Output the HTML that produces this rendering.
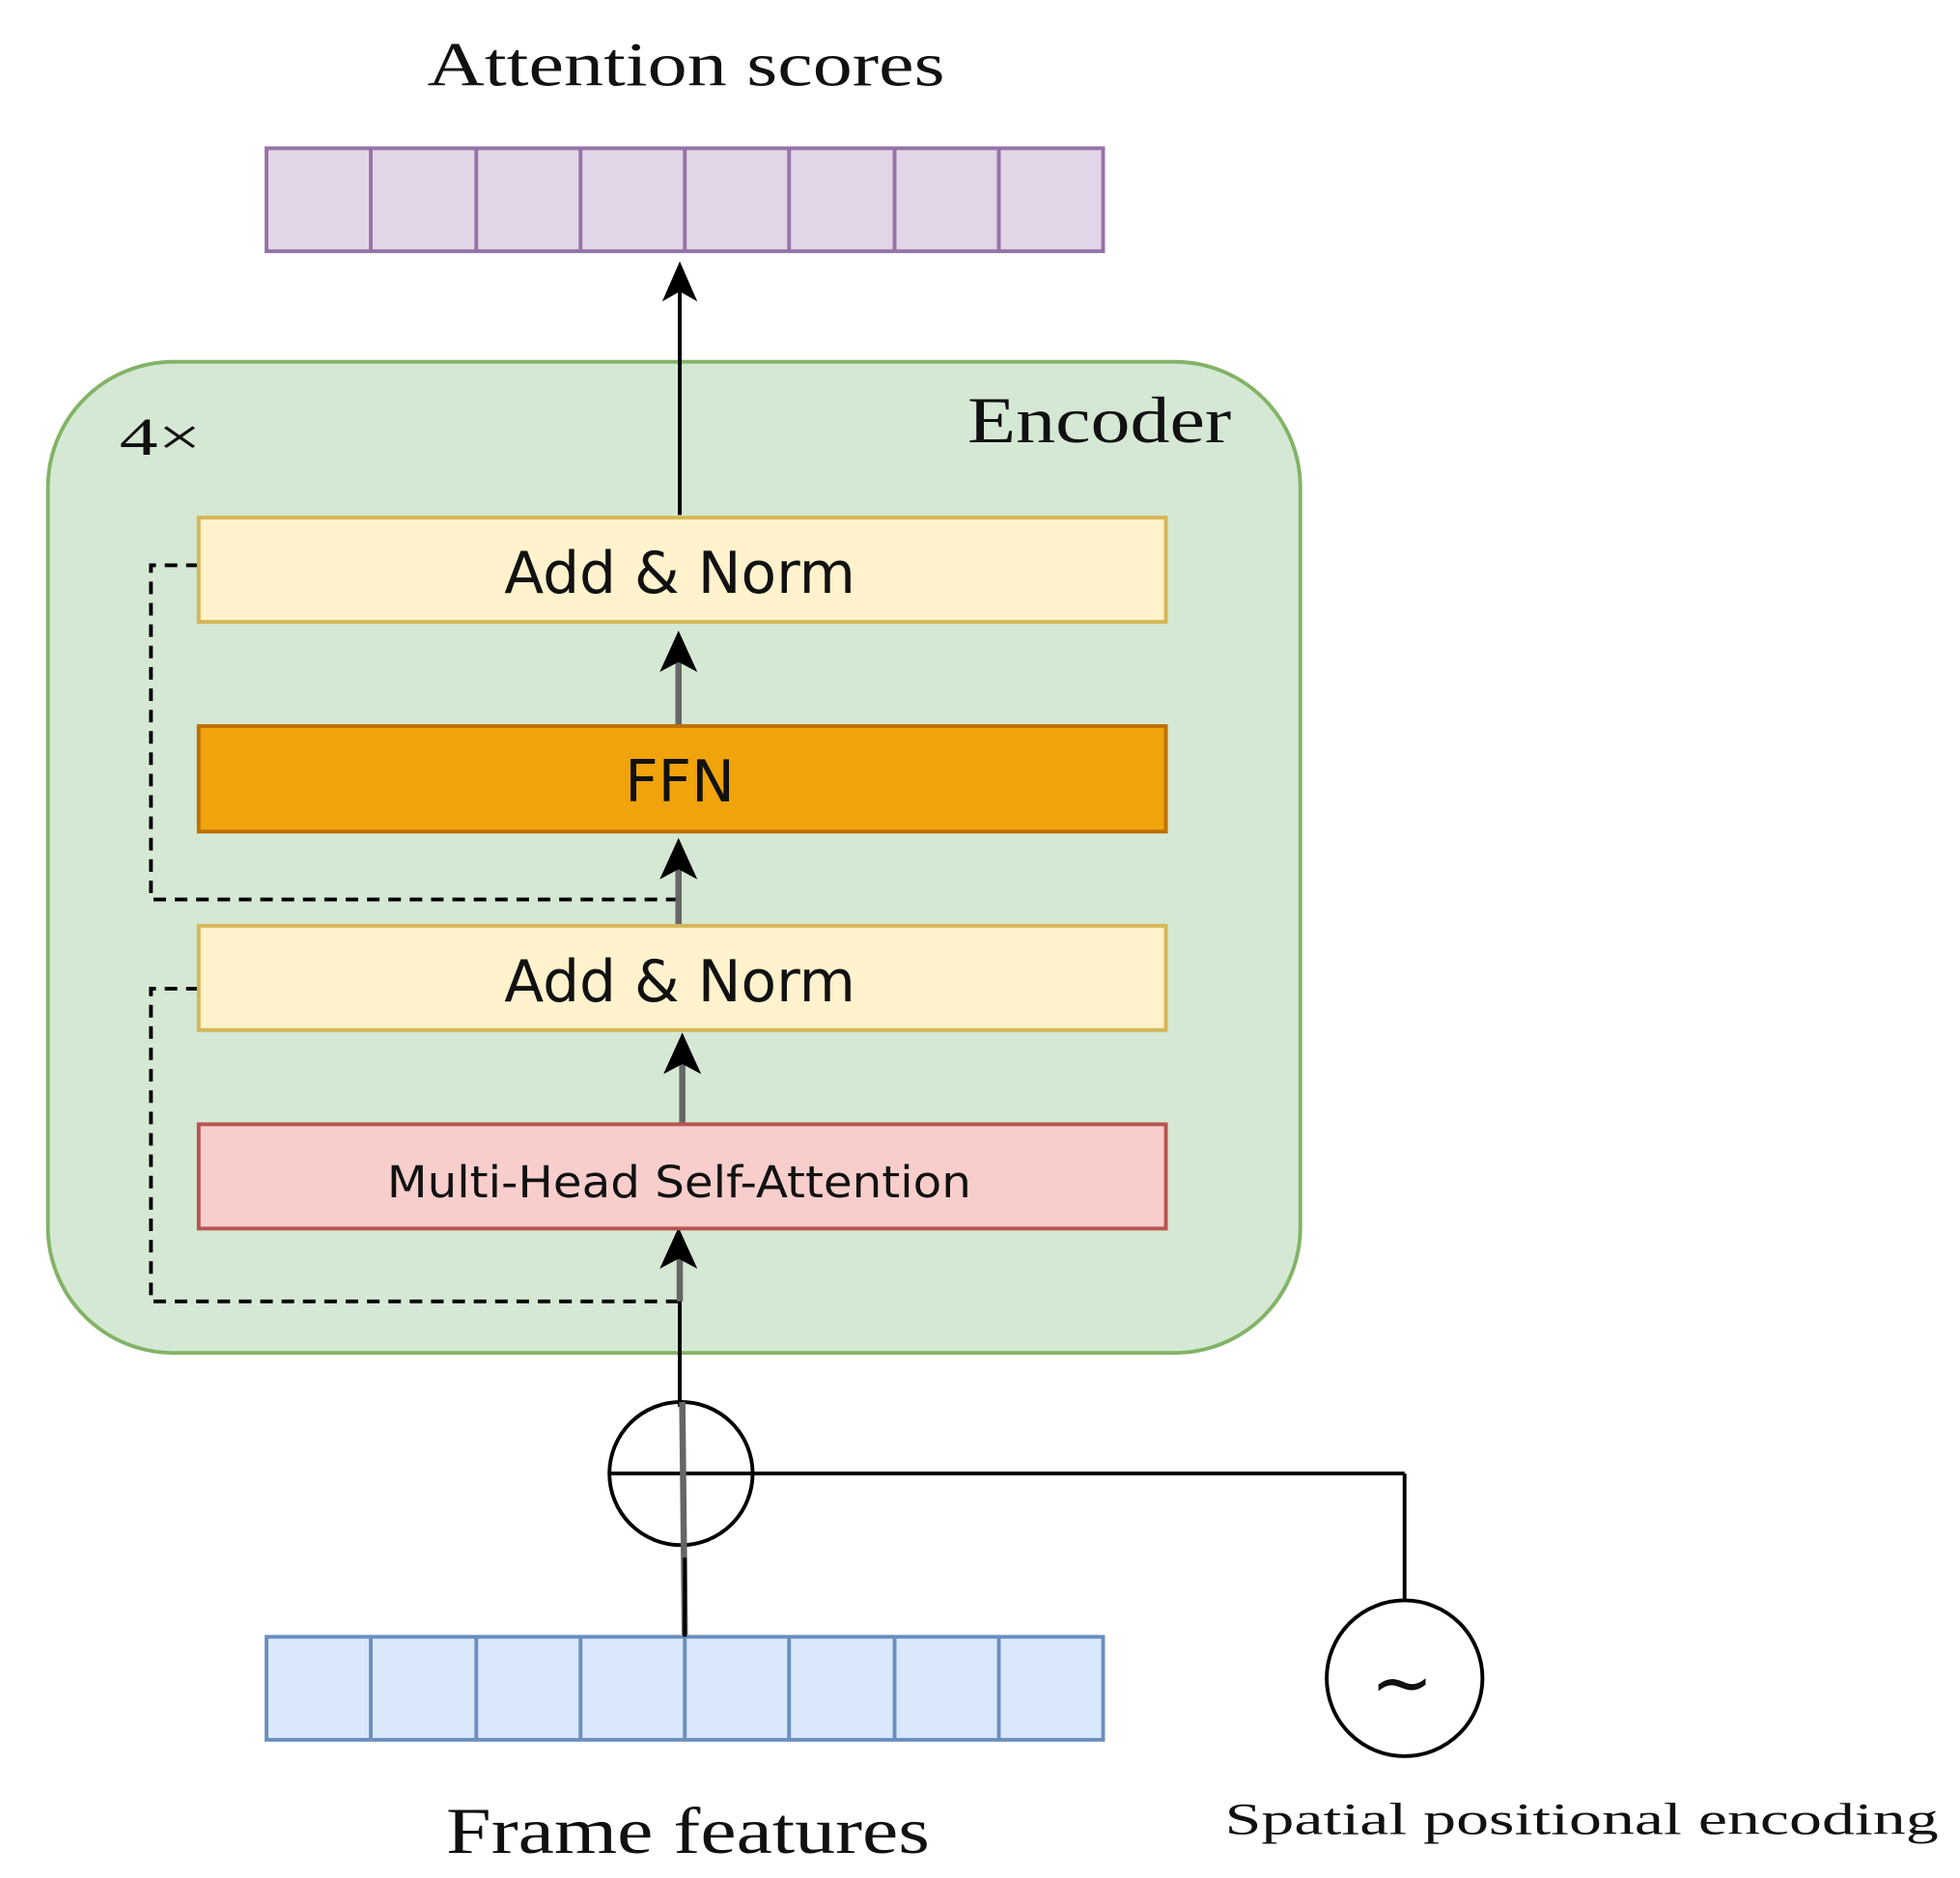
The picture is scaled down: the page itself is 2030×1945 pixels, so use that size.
<!DOCTYPE html>
<html><head><meta charset="utf-8"><style>
html,body{margin:0;padding:0;background:#fff;}
svg{display:block;}
</style></head><body>
<svg width="2030" height="1945" viewBox="0 0 1560 1495" xmlns="http://www.w3.org/2000/svg">
<text x="340" y="68" font-family="Liberation Serif, serif" font-size="50" textLength="412" lengthAdjust="spacingAndGlyphs" fill="#111">Attention scores</text>
<rect x="212" y="118" width="666" height="82" fill="#e1d5e7" stroke="#9673a6" stroke-width="3"/>
<g stroke="#9673a6" stroke-width="3">
<line x1="295" y1="118" x2="295" y2="200"/><line x1="379" y1="118" x2="379" y2="200"/><line x1="462" y1="118" x2="462" y2="200"/><line x1="545" y1="118" x2="545" y2="200"/><line x1="628" y1="118" x2="628" y2="200"/><line x1="712" y1="118" x2="712" y2="200"/><line x1="795" y1="118" x2="795" y2="200"/>
</g>
<rect x="38" y="288" width="997" height="789" rx="100" fill="#d5e8d4" stroke="#82b366" stroke-width="3"/>
<text x="770" y="352" font-family="Liberation Serif, serif" font-size="52" textLength="210" lengthAdjust="spacingAndGlyphs" fill="#111">Encoder</text>
<text x="95" y="362" font-family="Liberation Serif, serif" font-size="42" textLength="65" lengthAdjust="spacingAndGlyphs" fill="#111">4×</text>
<g fill="none" stroke="#000" stroke-width="3" stroke-dasharray="10,7">
<polyline points="158,450 120,450 120,716 540,716"/>
<polyline points="158,787 120,787 120,1036 540,1036"/>
</g>
<line x1="541" y1="410" x2="541" y2="225" stroke="#000" stroke-width="3"/>
<polygon points="541,208 527,240 541,232 555,240" fill="#000"/>
<line x1="540" y1="578" x2="540" y2="525" stroke="#666" stroke-width="5"/>
<polygon points="540,502 525,535 540,527 555,535" fill="#000"/>
<line x1="540" y1="737" x2="540" y2="690" stroke="#666" stroke-width="5"/>
<polygon points="540,667 525,700 540,692 555,700" fill="#000"/>
<line x1="543" y1="895" x2="543" y2="845" stroke="#666" stroke-width="5"/>
<polygon points="543,822 528,855 543,847 558,855" fill="#000"/>
<line x1="541" y1="1120" x2="541" y2="1000" stroke="#000" stroke-width="3"/>
<line x1="541" y1="1036" x2="541" y2="1000" stroke="#666" stroke-width="5"/>
<polygon points="540,977 525,1010 540,1002 555,1010" fill="#000"/>
<rect x="158" y="412" width="770" height="83" fill="#fff2cc" stroke="#d6b656" stroke-width="3"/>
<text x="541" y="472" font-family="DejaVu Sans, sans-serif" font-size="46" text-anchor="middle" fill="#111">Add &amp; Norm</text>
<rect x="158" y="578" width="770" height="84" fill="#f0a30a" stroke="#bd7000" stroke-width="3"/>
<text x="541" y="638" font-family="DejaVu Sans, sans-serif" font-size="46" text-anchor="middle" fill="#111">FFN</text>
<rect x="158" y="737" width="770" height="83" fill="#fff2cc" stroke="#d6b656" stroke-width="3"/>
<text x="541" y="797" font-family="DejaVu Sans, sans-serif" font-size="46" text-anchor="middle" fill="#111">Add &amp; Norm</text>
<rect x="158" y="895" width="770" height="83" fill="#f8cecc" stroke="#b85450" stroke-width="3"/>
<text x="308" y="953" font-family="DejaVu Sans, sans-serif" font-size="35" textLength="465" lengthAdjust="spacingAndGlyphs" fill="#111">Multi-Head Self-Attention</text>
<circle cx="542" cy="1173" r="57" fill="none" stroke="#000" stroke-width="3"/>
<line x1="485" y1="1173" x2="1118" y2="1173" stroke="#000" stroke-width="3"/>
<line x1="1118" y1="1173" x2="1118" y2="1275" stroke="#000" stroke-width="3"/>
<line x1="543" y1="1116" x2="545" y2="1303" stroke="#666" stroke-width="5"/>
<circle cx="1118" cy="1336" r="62" fill="none" stroke="#000" stroke-width="3"/>
<text x="1116" y="1360" font-family="DejaVu Sans, sans-serif" font-size="60" text-anchor="middle" fill="#111">~</text>
<rect x="212" y="1303" width="666" height="82" fill="#dae8fc" stroke="#6c8ebf" stroke-width="3"/>
<g stroke="#6c8ebf" stroke-width="3">
<line x1="295" y1="1303" x2="295" y2="1385"/><line x1="379" y1="1303" x2="379" y2="1385"/><line x1="462" y1="1303" x2="462" y2="1385"/><line x1="545" y1="1303" x2="545" y2="1385"/><line x1="628" y1="1303" x2="628" y2="1385"/><line x1="712" y1="1303" x2="712" y2="1385"/><line x1="795" y1="1303" x2="795" y2="1385"/>
</g>
<line x1="545" y1="1240" x2="545" y2="1303" stroke="#000" stroke-width="3"/>
<text x="355" y="1475" font-family="Liberation Serif, serif" font-size="52" textLength="385" lengthAdjust="spacingAndGlyphs" fill="#111">Frame features</text>
<text x="975" y="1460" font-family="Liberation Serif, serif" font-size="36" textLength="568" lengthAdjust="spacingAndGlyphs" fill="#111">Spatial positional encoding</text>
</svg>
</body></html>
